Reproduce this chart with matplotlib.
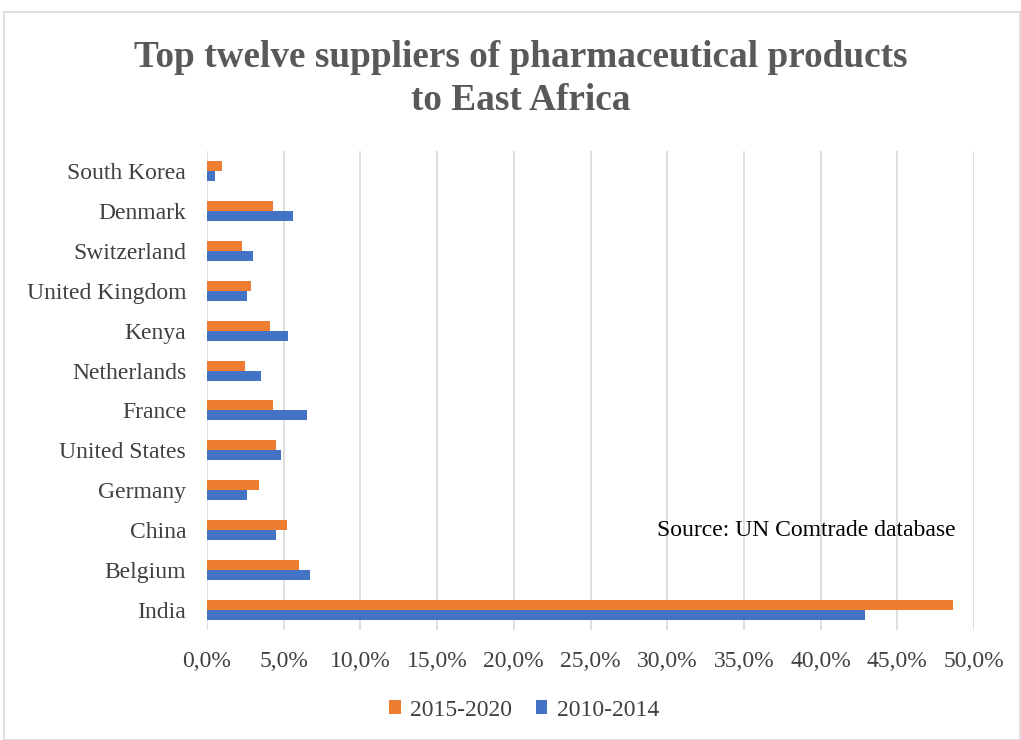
import matplotlib.pyplot as plt
from matplotlib.patches import Rectangle
import numpy as np

countries = ['India', 'Belgium', 'China', 'Germany', 'United States', 'France',
             'Netherlands', 'Kenya', 'United Kingdom', 'Switzerland', 'Denmark', 'South Korea']
share_2015_2020 = [48.6, 6.0, 5.2, 3.4, 4.5, 4.3, 2.5, 4.1, 2.9, 2.3, 4.3, 1.0]
share_2010_2014 = [42.9, 6.7, 4.5, 2.6, 4.8, 6.5, 3.5, 5.3, 2.6, 3.0, 5.6, 0.5]

plt.rcParams['font.family'] = ['Liberation Serif', 'DejaVu Serif']

fig = plt.figure(figsize=(10.21, 7.4), dpi=100)
fig.patches.append(Rectangle((4 / 1021, 0), 1016 / 1021, 1 - 12 / 740, transform=fig.transFigure,
                             fill=False, edgecolor='#D9D9D9', linewidth=1.2))

ax = fig.add_axes([207 / 1021, 1 - 630 / 740, 767 / 1021, 479 / 740])
y = np.arange(len(countries))
h = 0.25
ax.barh(y + h / 2, share_2015_2020, height=h, color='#ED7D31', label='2015-2020', zorder=3)
ax.barh(y - h / 2, share_2010_2014, height=h, color='#4472C4', label='2010-2014', zorder=3)

ax.set_xlim(0, 50)
ax.set_ylim(-0.5, len(countries) - 0.5)
ticks = np.arange(0, 51, 5)
ax.set_xticks(ticks)
ax.set_xticklabels([f'{t:.1f}%'.replace('.', ',') for t in ticks], fontsize=17, color='#404040')
ax.set_yticks(y)
ax.set_yticklabels(countries, fontsize=17, color='#404040')
ax.tick_params(length=0)
ax.tick_params(axis='x', pad=15)
ax.tick_params(axis='y', pad=15)
ax.grid(axis='x', color='#D9D9D9', linewidth=1.2, zorder=0)
for s in ax.spines.values():
    s.set_visible(False)

fig.text(521 / 1021, 1 - 79 / 740, 'Top twelve suppliers of pharmaceutical products\nto East Africa',
         ha='center', va='center', fontsize=26.8, fontweight='bold', color='#595959', linespacing=1.3)
fig.text(657 / 1021, 1 - 531 / 740, 'Source: UN Comtrade database', ha='left', va='center',
         fontsize=17, color='black')

handles, labels = ax.get_legend_handles_labels()
fig.legend(handles, labels, loc='center', bbox_to_anchor=(524 / 1021, 1 - 710 / 740), ncol=2,
           frameon=False, fontsize=17, labelcolor='#404040', handlelength=0.5, handleheight=0.5,
           handletextpad=0.4, columnspacing=1.0)

fig.savefig('out.png', dpi=100)
